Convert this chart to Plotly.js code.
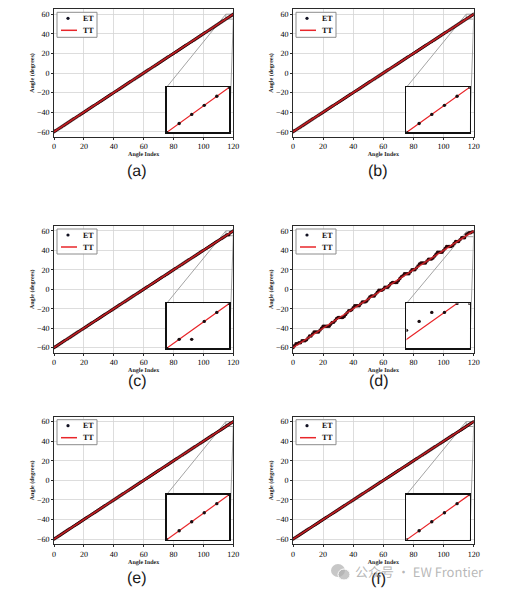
<!DOCTYPE html>
<html>
<head>
<meta charset="utf-8">
<script src="https://cdn.plot.ly/plotly-3.0.1.min.js"></script>
<style>html,body{margin:0;padding:0;background:#fff;}#chart{width:514px;height:603px;}#chart svg{opacity:0.999;}#chart text{text-rendering:geometricPrecision;}</style>
</head>
<body>
<div id="chart"></div>
<script>
// ---- data ----
const ANGLE_INDEX = [0,1,2,3,4,5,6,7,8,9,10,11,12,13,14,15,16,17,18,19,20,21,22,23,24,25,26,27,28,29,30,31,32,33,34,35,36,37,38,39,40,41,42,43,44,45,46,47,48,49,50,51,52,53,54,55,56,57,58,59,60,61,62,63,64,65,66,67,68,69,70,71,72,73,74,75,76,77,78,79,80,81,82,83,84,85,86,87,88,89,90,91,92,93,94,95,96,97,98,99,100,101,102,103,104,105,106,107,108,109,110,111,112,113,114,115,116,117,118,119,120];

// true angles (TT)
const TT = [-60,-59,-58,-57,-56,-55,-54,-53,-52,-51,-50,-49,-48,-47,-46,-45,-44,-43,-42,-41,-40,-39,-38,-37,-36,-35,-34,-33,-32,-31,-30,-29,-28,-27,-26,-25,-24,-23,-22,-21,-20,-19,-18,-17,-16,-15,-14,-13,-12,-11,-10,-9,-8,-7,-6,-5,-4,-3,-2,-1,0,1,2,3,4,5,6,7,8,9,10,11,12,13,14,15,16,17,18,19,20,21,22,23,24,25,26,27,28,29,30,31,32,33,34,35,36,37,38,39,40,41,42,43,44,45,46,47,48,49,50,51,52,53,54,55,56,57,58,59,60];

// estimated angles (ET), panels (a), (b), (e), (f): on the true line
const ET_EXACT = [-60,-59,-58,-57,-56,-55,-54,-53,-52,-51,-50,-49,-48,-47,-46,-45,-44,-43,-42,-41,-40,-39,-38,-37,-36,-35,-34,-33,-32,-31,-30,-29,-28,-27,-26,-25,-24,-23,-22,-21,-20,-19,-18,-17,-16,-15,-14,-13,-12,-11,-10,-9,-8,-7,-6,-5,-4,-3,-2,-1,0,1,2,3,4,5,6,7,8,9,10,11,12,13,14,15,16,17,18,19,20,21,22,23,24,25,26,27,28,29,30,31,32,33,34,35,36,37,38,39,40,41,42,43,44,45,46,47,48,49,50,51,52,53,54,55,56,57,58,59,60];

// panel (c): one estimate off the line (index 117)
const ET_C = [-60,-59,-58,-57,-56,-55,-54,-53,-52,-51,-50,-49,-48,-47,-46,-45,-44,-43,-42,-41,-40,-39,-38,-37,-36,-35,-34,-33,-32,-31,-30,-29,-28,-27,-26,-25,-24,-23,-22,-21,-20,-19,-18,-17,-16,-15,-14,-13,-12,-11,-10,-9,-8,-7,-6,-5,-4,-3,-2,-1,0,1,2,3,4,5,6,7,8,9,10,11,12,13,14,15,16,17,18,19,20,21,22,23,24,25,26,27,28,29,30,31,32,33,34,35,36,37,38,39,40,41,42,43,44,45,46,47,48,49,50,51,52,53,54,55,56,56,58,59,60];

// panel (d): noisy estimates
const ET_D = [-60,-58,-56,-56,-55,-55,-53,-53,-53,-52,-50,-48,-48,-46,-44,-44,-44,-44,-42,-40,-38,-38,-38,-38,-38,-36,-34,-34,-32,-30,-29,-29,-29,-29,-28,-26,-24,-22,-22,-21,-19,-17,-17,-17,-17,-15,-13,-13,-13,-12,-10,-8,-7,-7,-7,-5,-3,-1,-1,-1,0,2,2,2,4,6,7,7,7,7,9,11,13,14,16,16,16,16,18,20,20,20,22,24,26,27,27,27,27,29,31,31,31,32,34,36,38,38,38,38,40,42,44,44,44,44,45,47,49,49,49,51,53,53,53,56,57,58,58,59,59];

const PANEL_LABELS = ['(a)','(b)','(c)','(d)','(e)','(f)'];
const SERIES_NAMES = ['ET', 'TT'];
const PANEL_ET = [ET_EXACT, ET_EXACT, ET_C, ET_D, ET_EXACT, ET_EXACT];
const INSET_X = [[115,120],[115,120],[115,120],[115,120],[115,120],[115,120]];
const INSET_Y = [[55,60],[55,60],[55,60],[54,59],[55,60],[55,60]];
const X_TITLE = 'Angle Index';
const Y_TITLE = 'Angle (degrees)';
const WATERMARK = '公众号 · EW Frontier';

// ---- layout geometry (pixels) ----
const W = 514, H = 603;
const COLS = [[54, 233.3], [293, 473.7]];
const ROWS = [[9.3, 136.7], [226, 352.5], [416.7, 544]];
const LABEL_POS = [[137,170],[378,170],[137,380],[379,380],[137,577],[378,578]];
const MAIN_X = [0, 120], MAIN_Y = [-65, 65];
const INSET_FX = [0.628, 0.978], INSET_FY = [0.033, 0.388];

const serif = 'Liberation Serif, Times New Roman, serif';
const RED = '#e8262a';
const DOT = '#2a070a';
const px = v => v / W, py = v => 1 - v / H;

const data = [];
const layout = {
  width: W, height: H, autosize: false,
  margin: {l: 0, r: 0, t: 0, b: 0, pad: 0},
  paper_bgcolor: '#ffffff', plot_bgcolor: '#ffffff',
  showlegend: false,
  shapes: [], annotations: []
};

for (let i = 0; i < 6; i++) {
  const col = i % 2, row = Math.floor(i / 2);
  const n = i + 1, m = i + 7;
  const L = COLS[col][0], T = ROWS[row][0];
  const xd = [px(COLS[col][0]), px(COLS[col][1])];
  const yd = [py(ROWS[row][1]), py(ROWS[row][0])];
  const ixd = [xd[0] + INSET_FX[0] * (xd[1] - xd[0]), xd[0] + INSET_FX[1] * (xd[1] - xd[0])];
  const iyd = [yd[0] + INSET_FY[0] * (yd[1] - yd[0]), yd[0] + INSET_FY[1] * (yd[1] - yd[0])];

  layout['xaxis' + n] = {
    domain: xd, anchor: 'y' + n, range: MAIN_X, dtick: 20, tick0: 0,
    showgrid: true, gridcolor: '#d4d4d4', gridwidth: 0.8, zeroline: false,
    showline: true, mirror: true, linecolor: '#2a2a2a', linewidth: 1,
    ticks: 'outside', ticklen: 2, tickcolor: '#2a2a2a',
    tickfont: {family: serif, size: 8, color: '#000000'},
    title: {text: '<b>' + X_TITLE + '</b>', font: {family: serif, size: 6, color: '#222'}, standoff: 1}
  };
  layout['yaxis' + n] = {
    domain: yd, anchor: 'x' + n, range: MAIN_Y, dtick: 20, tick0: 0,
    showgrid: true, gridcolor: '#d4d4d4', gridwidth: 0.8, zeroline: false,
    showline: true, mirror: true, linecolor: '#2a2a2a', linewidth: 1,
    ticks: 'outside', ticklen: 2, tickcolor: '#2a2a2a',
    tickfont: {family: serif, size: 8, color: '#000000'},
    title: {text: '<b>' + Y_TITLE + '</b>', font: {family: serif, size: 6, color: '#222'}, standoff: 1}
  };
  layout['xaxis' + m] = {
    domain: ixd, anchor: 'y' + m, range: INSET_X[i], showticklabels: false, ticks: '',
    showgrid: false, zeroline: false, showline: true, mirror: true, linecolor: '#111', linewidth: 1.2
  };
  layout['yaxis' + m] = {
    domain: iyd, anchor: 'x' + m, range: INSET_Y[i], showticklabels: false, ticks: '',
    showgrid: false, zeroline: false, showline: true, mirror: true, linecolor: '#111', linewidth: 1.2
  };

  // main traces
  data.push({
    x: ANGLE_INDEX, y: PANEL_ET[i], type: 'scatter', mode: 'markers', name: SERIES_NAMES[0],
    marker: {color: DOT, size: 3.4}, xaxis: 'x' + n, yaxis: 'y' + n, hoverinfo: 'skip'
  });
  data.push({
    x: ANGLE_INDEX, y: TT, type: 'scatter', mode: 'lines', name: SERIES_NAMES[1],
    line: {color: RED, width: 1.6}, opacity: 0.8, xaxis: 'x' + n, yaxis: 'y' + n, hoverinfo: 'skip'
  });
  // inset traces
  data.push({
    x: ANGLE_INDEX, y: TT, type: 'scatter', mode: 'lines', name: SERIES_NAMES[1],
    line: {color: RED, width: 1.2}, xaxis: 'x' + m, yaxis: 'y' + m, hoverinfo: 'skip'
  });
  data.push({
    x: ANGLE_INDEX, y: PANEL_ET[i], type: 'scatter', mode: 'markers', name: SERIES_NAMES[0],
    marker: {color: '#1a0d10', size: 3.4}, xaxis: 'x' + m, yaxis: 'y' + m, hoverinfo: 'skip'
  });

  // zoom box and connector lines (inset corners in main-axis coordinates)
  const toMX = f => MAIN_X[0] + f * (MAIN_X[1] - MAIN_X[0]);
  const toMY = f => MAIN_Y[0] + f * (MAIN_Y[1] - MAIN_Y[0]);
  const gray = {color: '#9a9a9a', width: 0.9};
  layout.shapes.push({type: 'rect', xref: 'x' + n, yref: 'y' + n, layer: 'between',
    x0: INSET_X[i][0], x1: INSET_X[i][1], y0: INSET_Y[i][0], y1: INSET_Y[i][1], line: gray});
  layout.shapes.push({type: 'line', xref: 'x' + n, yref: 'y' + n, layer: 'between',
    x0: toMX(INSET_FX[0]), y0: toMY(INSET_FY[1]), x1: INSET_X[i][0], y1: INSET_Y[i][1], line: gray});
  layout.shapes.push({type: 'line', xref: 'x' + n, yref: 'y' + n, layer: 'between',
    x0: toMX(INSET_FX[1]), y0: toMY(INSET_FY[0]), x1: INSET_X[i][1], y1: INSET_Y[i][0], line: gray});
  // white background of the inset
  layout.shapes.push({type: 'rect', xref: 'x' + m, yref: 'y' + m, layer: 'below',
    x0: INSET_X[i][0], x1: INSET_X[i][1], y0: INSET_Y[i][0], y1: INSET_Y[i][1],
    fillcolor: '#ffffff', line: {width: 0}});

  // legend (compact, drawn like the matplotlib one)
  layout.shapes.push({type: 'rect', xref: 'paper', yref: 'paper', layer: 'above',
    x0: px(L + 3), x1: px(L + 43), y0: py(T + 28), y1: py(T + 3),
    fillcolor: 'rgba(255,255,255,0.9)', line: {color: '#8c8c8c', width: 1}});
  layout.shapes.push({type: 'circle', xref: 'paper', yref: 'paper', layer: 'above',
    x0: px(L + 12.4), x1: px(L + 15.6), y0: py(T + 10.6), y1: py(T + 7.4),
    fillcolor: '#111122', line: {width: 0}});
  layout.shapes.push({type: 'line', xref: 'paper', yref: 'paper', layer: 'above',
    x0: px(L + 7), x1: px(L + 23), y0: py(T + 21), y1: py(T + 21),
    line: {color: RED, width: 1.5}});
  SERIES_NAMES.forEach((nm, k) => {
    layout.annotations.push({
      text: '<b>' + nm + '</b>', xref: 'paper', yref: 'paper', showarrow: false,
      x: px(L + 34), y: py(T + 9 + 12 * k), xanchor: 'center', yanchor: 'middle',
      font: {family: serif, size: 8, color: '#111'}
    });
  });

  layout.annotations.push({
    text: PANEL_LABELS[i], xref: 'paper', yref: 'paper', showarrow: false,
    x: px(LABEL_POS[i][0]), y: py(LABEL_POS[i][1]), xanchor: 'center', yanchor: 'middle',
    font: {family: 'Liberation Sans, Arial, sans-serif', size: 16, color: '#1a1a1a'}
  });
}

// watermark
layout.annotations.push({
  text: WATERMARK, xref: 'paper', yref: 'paper', showarrow: false,
  x: px(353), y: py(571), xanchor: 'left', yanchor: 'middle',
  font: {family: 'Noto Sans CJK SC, Noto Sans, sans-serif', size: 13, color: 'rgba(160,160,160,0.75)'}
});
layout.shapes.push({type: 'circle', xref: 'paper', yref: 'paper', layer: 'above',
  x0: px(331), x1: px(345), y0: py(577), y1: py(564),
  fillcolor: 'rgba(175,175,175,0.7)', line: {width: 0}});
layout.shapes.push({type: 'circle', xref: 'paper', yref: 'paper', layer: 'above',
  x0: px(338), x1: px(350), y0: py(580), y1: py(569),
  fillcolor: 'rgba(175,175,175,0.7)', line: {color: '#ffffff', width: 1}});

Plotly.newPlot('chart', data, layout, {staticPlot: true, displayModeBar: false});
</script>
</body>
</html>
